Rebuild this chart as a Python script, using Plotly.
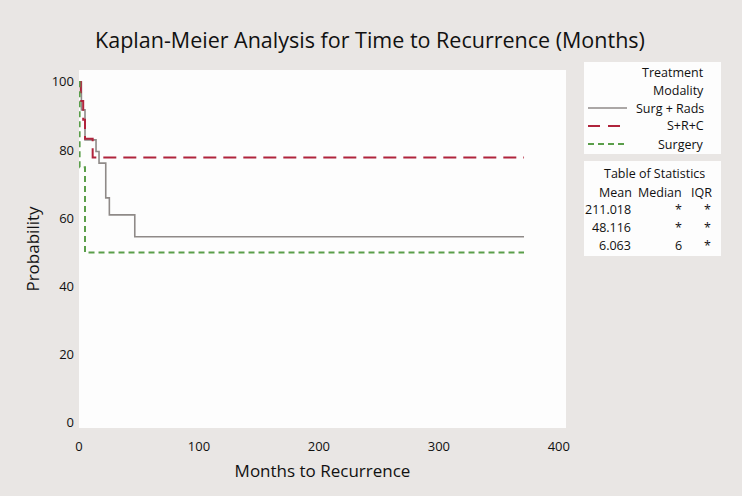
import plotly.graph_objects as go

# ---- data ----
surg_rads_t = [0, 2, 5, 14.2, 16.7, 22.3, 25.3, 46.5, 371]
surg_rads_s = [100, 91.8, 83.0, 79.6, 76.2, 66.0, 61.0, 54.6, 54.6]

src_t = [0, 1.5, 3.5, 5, 11.4, 371]
src_s = [100, 94.4, 88.9, 83.3, 77.8, 77.8]

surgery_t = [0, 0.5, 5, 371]
surgery_s = [100, 75.0, 50.0, 50.0]

series_names = ["Surg + Rads", "S+R+C", "Surgery"]
x_ticks = [0, 100, 200, 300, 400]
y_ticks = [0, 20, 40, 60, 80, 100]

stat_mean = ["211.018", "48.116", "6.063"]
stat_median = ["*", "*", "6"]
stat_iqr = ["*", "*", "*"]

# ---- styling ----
W, H = 742, 496
L, R, T, B = 79, 566, 70, 428
FONT = "Open Sans"
TXT = "#111111"
GRAY = "#8f8a88"
RED = "#b0243c"
GREEN = "#5a9e4a"


def px(x):
    return (x - L) / (R - L)


def py(y):
    return (B - y) / (B - T)


fig = go.Figure()
fig.add_trace(go.Scatter(x=surg_rads_t, y=surg_rads_s, mode="lines", line_shape="hv",
                         name=series_names[0], line=dict(color=GRAY, width=1.6)))
fig.add_trace(go.Scatter(x=src_t, y=src_s, mode="lines", line_shape="hv",
                         name=series_names[1], line=dict(color=RED, width=2, dash="13px,7px")))
fig.add_trace(go.Scatter(x=surgery_t, y=surgery_s, mode="lines", line_shape="hv",
                         name=series_names[2], line=dict(color=GREEN, width=2, dash="6px,4px")))

shapes = []
annotations = []

# legend box
shapes.append(dict(type="rect", xref="paper", yref="paper", x0=px(584), x1=px(721), y0=py(154), y1=py(62),
                   fillcolor="#fdfdfd", line=dict(width=0), layer="below"))
# stats box
shapes.append(dict(type="rect", xref="paper", yref="paper", x0=px(584), x1=px(721), y0=py(256), y1=py(161),
                   fillcolor="#fdfdfd", line=dict(width=0), layer="below"))

# legend samples
sample_styles = [dict(color=GRAY, width=1.6), dict(color=RED, width=2, dash="12px,8px"),
                 dict(color=GREEN, width=2, dash="6px,4px")]
sample_y = [108, 126, 144]
sample_x1 = [627, 622, 627]
for i, name in enumerate(series_names):
    shapes.append(dict(type="line", xref="paper", yref="paper", x0=px(588), x1=px(sample_x1[i]),
                       y0=py(sample_y[i]), y1=py(sample_y[i]), line=sample_styles[i]))
    annotations.append(dict(text=name, xref="paper", yref="paper", x=px(706), y=py(sample_y[i]),
                            xanchor="right", yanchor="middle", showarrow=False,
                            font=dict(family=FONT, size=12.5, color=TXT)))

for txt, yy in [("Treatment", 73), ("Modality", 91)]:
    annotations.append(dict(text=txt, xref="paper", yref="paper", x=px(706), y=py(yy),
                            xanchor="right", yanchor="middle", showarrow=False,
                            font=dict(family=FONT, size=12.5, color=TXT)))

# stats table
annotations.append(dict(text="Table of Statistics", xref="paper", yref="paper", x=px(654), y=py(173),
                        xanchor="center", yanchor="middle", showarrow=False,
                        font=dict(family=FONT, size=12.5, color=TXT)))
for txt, xx in [("Mean", 634), ("Median", 684), ("IQR", 714)]:
    annotations.append(dict(text=txt, xref="paper", yref="paper", x=px(xx), y=py(192),
                            xanchor="right", yanchor="middle", showarrow=False,
                            font=dict(family=FONT, size=12.5, color=TXT)))
row_y = [209, 227, 245]
for i in range(3):
    for txt, xx in [(stat_mean[i], 633), (stat_median[i], 684), (stat_iqr[i], 713)]:
        annotations.append(dict(text=txt, xref="paper", yref="paper", x=px(xx), y=py(row_y[i]),
                                xanchor="right", yanchor="middle", showarrow=False,
                                font=dict(family=FONT, size=12.5, color=TXT)))

fig.update_layout(
    width=W, height=H,
    margin=dict(l=L, r=W - R, t=T, b=H - B, pad=0),
    paper_bgcolor="#e9e6e4",
    plot_bgcolor="#fdfdfd",
    showlegend=False,
    font=dict(family=FONT, color=TXT),
    title=dict(text="Kaplan-Meier Analysis for Time to Recurrence (Months)",
               x=370 / W, y=1 - 40 / H, xanchor="center", yanchor="middle",
               font=dict(family=FONT, size=21.5, color=TXT)),
    xaxis=dict(range=[0, 406], tickvals=x_ticks, showgrid=False, zeroline=False, showline=False,
               ticks="", tickfont=dict(size=13, color=TXT), automargin=False, ticklabelstandoff=9,
               title=dict(text="Months to Recurrence", font=dict(size=17, color=TXT), standoff=11)),
    yaxis=dict(range=[-1.5, 103.5], tickvals=y_ticks, showgrid=False, zeroline=False, showline=False,
               ticks="", tickfont=dict(size=13, color=TXT), automargin=False, ticklabelstandoff=4,
               title=dict(text="Probability", font=dict(size=17, color=TXT), standoff=7)),
    shapes=shapes,
    annotations=annotations,
)

fig.write_html("out.html", config={"displayModeBar": False},
               post_script="document.body.style.margin='0';document.body.style.background='#e9e6e4';")
